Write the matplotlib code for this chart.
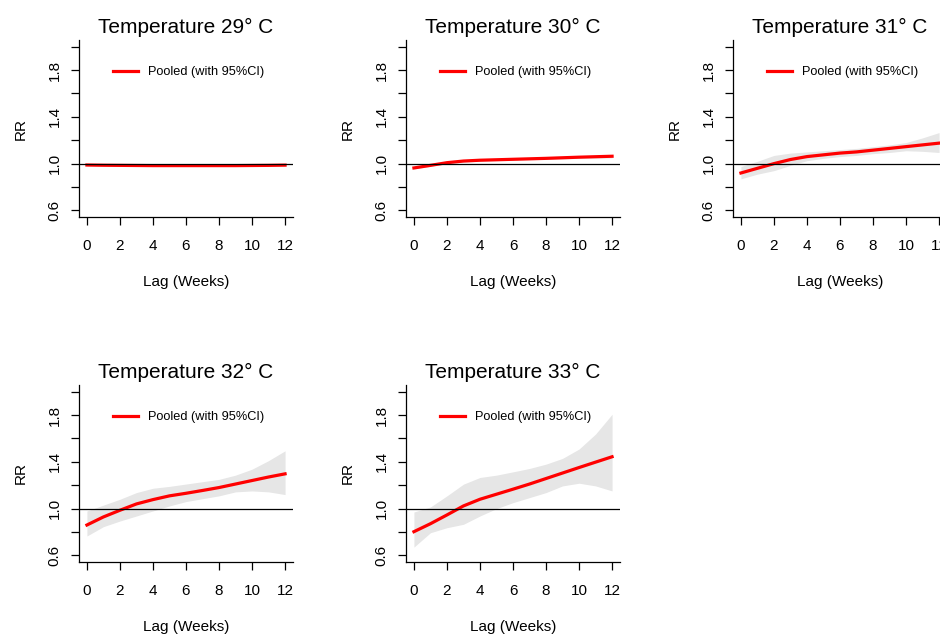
import numpy as np
import matplotlib
matplotlib.use("Agg")
import matplotlib.pyplot as plt

plt.rcParams['font.family'] = ['Liberation Sans', 'DejaVu Sans']

lags = list(range(13))
temps = [29, 30, 31, 32, 33]

# pooled RR by lag, with 95% CI bounds
rr_29 = [0.988, 0.986, 0.985, 0.984, 0.983, 0.983, 0.983, 0.983, 0.983, 0.983, 0.984, 0.985, 0.987]
lo_29 = [0.981, 0.980, 0.979, 0.978, 0.977, 0.977, 0.977, 0.977, 0.977, 0.977, 0.978, 0.978, 0.979]
hi_29 = [0.995, 0.992, 0.991, 0.990, 0.989, 0.989, 0.989, 0.989, 0.989, 0.989, 0.990, 0.992, 0.995]

rr_30 = [0.963, 0.985, 1.008, 1.022, 1.029, 1.033, 1.037, 1.041, 1.045, 1.050, 1.055, 1.059, 1.063]
lo_30 = [0.955, 0.978, 1.001, 1.014, 1.021, 1.026, 1.030, 1.034, 1.037, 1.041, 1.045, 1.047, 1.049]
hi_30 = [0.971, 0.992, 1.015, 1.030, 1.037, 1.040, 1.044, 1.048, 1.053, 1.059, 1.065, 1.071, 1.077]

rr_31 = [0.920, 0.960, 1.000, 1.035, 1.060, 1.075, 1.090, 1.100, 1.115, 1.130, 1.145, 1.160, 1.175]
lo_31 = [0.870, 0.910, 0.940, 0.985, 1.025, 1.045, 1.060, 1.070, 1.085, 1.095, 1.110, 1.105, 1.095]
hi_31 = [0.975, 1.020, 1.070, 1.090, 1.100, 1.110, 1.120, 1.130, 1.145, 1.160, 1.180, 1.220, 1.265]

rr_32 = [0.860, 0.929, 0.986, 1.040, 1.077, 1.109, 1.131, 1.155, 1.180, 1.210, 1.240, 1.270, 1.297]
lo_32 = [0.766, 0.846, 0.894, 0.937, 0.980, 1.023, 1.060, 1.085, 1.109, 1.143, 1.151, 1.143, 1.120]
hi_32 = [0.980, 1.030, 1.080, 1.137, 1.174, 1.190, 1.210, 1.230, 1.250, 1.286, 1.337, 1.410, 1.494]

rr_33 = [0.803, 0.871, 0.946, 1.023, 1.080, 1.123, 1.166, 1.210, 1.257, 1.304, 1.351, 1.397, 1.443]
lo_33 = [0.671, 0.794, 0.837, 0.866, 0.937, 1.000, 1.051, 1.094, 1.137, 1.194, 1.217, 1.194, 1.151]
hi_33 = [0.971, 1.014, 1.109, 1.209, 1.266, 1.286, 1.314, 1.343, 1.380, 1.429, 1.509, 1.637, 1.806]

fits = [rr_29, rr_30, rr_31, rr_32, rr_33]
lows = [lo_29, lo_30, lo_31, lo_32, lo_33]
highs = [hi_29, hi_30, hi_31, hi_32, hi_33]

yticks = [0.6, 0.8, 1.0, 1.2, 1.4, 1.6, 1.8, 2.0]
ytick_labels = ['0.6', '', '1.0', '', '1.4', '', '1.8', '']
xticks = [0, 2, 4, 6, 8, 10, 12]

fig = plt.figure(figsize=(9.4, 6.35), dpi=100)

# panel grid in pixels; the third column runs past the right edge
col_left = [79, 406, 733]
row_bottom = [217, 562]
ax_w, ax_h = 214, 177

for i, t in enumerate(temps):
    r, c = divmod(i, 3)
    left = col_left[c] / 940
    bottom = (635 - row_bottom[r]) / 635
    ax = fig.add_axes([left, bottom, ax_w / 940, ax_h / 635])

    ax.fill_between(lags, lows[i], highs[i], color='#e6e6e6', lw=0)
    ax.plot(lags, fits[i], color='red', lw=2.3, label='Pooled (with 95%CI)')
    ax.axhline(1.0, color='black', lw=0.9)

    ax.set_xlim(-0.48, 12.48)
    ax.set_ylim(0.544, 2.056)
    ax.set_xticks(xticks)
    ax.set_yticks(yticks)
    ax.set_yticklabels(ytick_labels, rotation=90, va='center')
    ax.tick_params(direction='out', length=5.5, width=0.9, labelsize=11)
    ax.tick_params(axis='y', pad=7)
    ax.tick_params(axis='x', pad=10)
    for s in ['top', 'right']:
        ax.spines[s].set_visible(False)
    for s in ['left', 'bottom']:
        ax.spines[s].set_linewidth(0.9)

    ax.set_title(f'Temperature {t}° C', fontsize=15, pad=5)
    ax.set_xlabel('Lag (Weeks)', fontsize=11, labelpad=16)
    ax.set_ylabel('RR', fontsize=11, labelpad=14)

    ax.legend(loc='center', bbox_to_anchor=(0.514, 0.817), frameon=False,
              fontsize=9.2, handlelength=1.9, handletextpad=0.85)

fig.savefig('out.png', dpi=100)
